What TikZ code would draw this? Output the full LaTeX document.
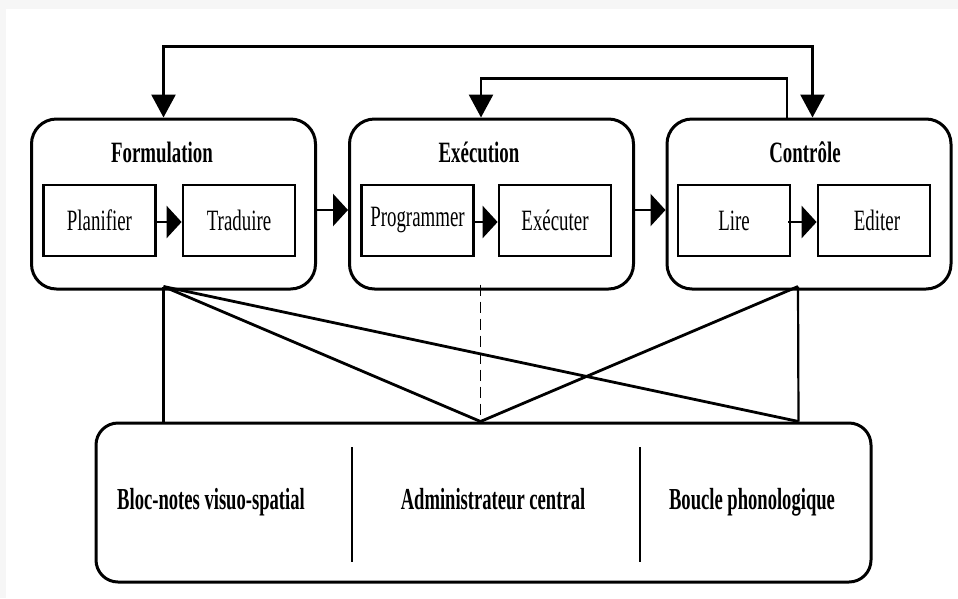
\documentclass[tikz,border=0pt]{standalone}
\usepackage{fontspec}
\usetikzlibrary{arrows.meta}
% condensed Times-like faces for the labels
\newfontfamily\diafont{Liberation Serif}[FakeStretch=0.64]
\newfontfamily\memfont{Liberation Serif}[FakeStretch=0.61]

\begin{document}
\begin{tikzpicture}[x=1pt,y=-1pt,
  stage/.style={draw, line width=3pt, rounded corners=25pt,
    minimum width=284pt, minimum height=170pt, inner sep=0pt},
  task/.style={draw, line width=2.8pt, minimum width=112pt, minimum height=71pt,
    inner sep=0pt, font=\diafont\fontsize{29.5}{32}\selectfont},
  title/.style={inner sep=0pt, anchor=base,
    font=\diafont\bfseries\fontsize{29.5}{32}\selectfont},
  memlabel/.style={inner sep=0pt, anchor=base,
    font=\memfont\bfseries\fontsize{30.5}{34}\selectfont},
  hflow/.style={line width=2.8pt, -{Triangle[length=15pt,width=32pt]}},
  vflow/.style={line width=2.8pt, -{Triangle[length=23pt,width=24pt]}},
  vflowboth/.style={line width=2.8pt,
    {Triangle[length=23pt,width=24pt]}-{Triangle[length=23pt,width=24pt]}},
  link/.style={line width=2.8pt},
  thinlink/.style={line width=2.2pt},
  dashlink/.style={line width=1.7pt, dash pattern=on 11pt off 6pt}
]
% page background
\fill[gray!7] (0,0) rectangle (958,598);
\fill[white] (6,9) rectangle (958,598);
\useasboundingbox (0,0) rectangle (958,598);

% writing process stages
\node[stage] (form) at (173.5,204) {};
\node[stage] (exec) at (491.5,204) {};
\node[stage] (ctrl) at (809,204) {};

\node[title] (tform) at (162,162) {Formulation};
\node[title] (texec) at (479,162) {Exécution};
\node[title] (tctrl) at (805,162) {Contrôle};

% sub-processes
\node[task] (plan) at (99.5,220.5) {Planifier};
\node[task] (trad) at (239,220.5) {Traduire};
\node[task] (prog) at (417.5,220.5) {Programmer};
\node[task] (exe)  at (555,220.5) {Exécuter};
\node[task] (lire) at (734,220.5) {Lire};
\node[task] (edit) at (874,220.5) {\hspace*{6pt}Editer};

% working memory
\node[draw, line width=3pt, rounded corners=22pt, minimum width=775pt,
  minimum height=159pt, inner sep=0pt] (mem) at (483.5,502.5) {};
\coordinate (d1t) at (352,447);
\coordinate (d1b) at (352,562);
\coordinate (d2t) at (640,447);
\coordinate (d2b) at (640,562);
\draw[thinlink] (d1t) -- (d1b);
\draw[thinlink] (d2t) -- (d2b);
\node[memlabel] (bloc) at (211,509) {Bloc-notes visuo-spatial};
\node[memlabel] (admin) at (493,509) {Administrateur central};
\node[memlabel] (boucle) at (752,509) {Boucle phonologique};

% arrows inside the stages
\draw[hflow] ([shift={(-3,1.5)}]plan.east) -- ([shift={(0,1.5)}]trad.west);
\draw[hflow] ([shift={(-3,1.5)}]prog.east) -- ([shift={(0,1.5)}]exe.west);
\draw[hflow] ([shift={(-3,1.5)}]lire.east) -- ([shift={(0,1.5)}]edit.west);

% arrows between the stages
\draw[hflow] ([shift={(-3,6)}]form.east) -- ([shift={(0,6)}]exec.west);
\draw[hflow] ([shift={(-3,6)}]exec.east) -- ([shift={(0,6)}]ctrl.west);

% feedback loops from the control stage
\path (form.north) ++(-10,0) coordinate (fN);
\path (exec.north) ++(-10.5,0) coordinate (eN);
\path (ctrl.north) ++(-22,0) coordinate (cN1);
\path (ctrl.north) ++(3.5,0) coordinate (cN2);
\draw[vflowboth] (cN2) -- ++(0,-71) -| (fN);
\draw[vflow] (cN1) -- ++(0,-39) -| (eN);

% links to working memory
\path (form.south) ++(-10,-4) coordinate (fS);
\path (exec.south) ++(-11,-6) coordinate (eS);
\path (ctrl.south) ++(-11,-4) coordinate (cS);
\path (mem.north) ++(-3,0) coordinate (mM);
\path (mem.north) ++(-320,0) coordinate (mL);
\path (mem.north) ++(315,0) coordinate (mR);

\draw[thinlink] (fS) -- (mL);
\draw[thinlink] (cS) -- (mR);
\draw[link] (fS) -- (mM);
\draw[link] (fS) -- (mR);
\draw[link] (cS) -- (mM);
\draw[dashlink] (eS) -- (mM);
\end{tikzpicture}
\end{document}
